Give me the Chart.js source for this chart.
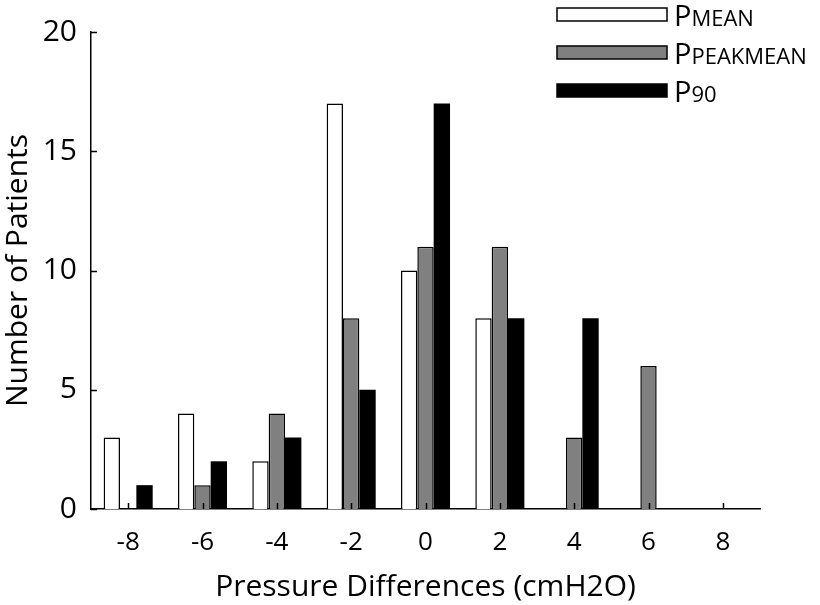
<!DOCTYPE html>
<html>
<head>
<meta charset="utf-8">
<script src="https://cdn.jsdelivr.net/npm/chart.js@4"></script>
<style>
  html, body { margin: 0; padding: 0; background: #fff; }
  #wrap { width: 820px; height: 605px; }
</style>
</head>
<body>
<div id="wrap"><canvas id="myChart" width="820" height="605"></canvas></div>
<script>
var categories = ['-8', '-6', '-4', '-2', '0', '2', '4', '6', '8']
var pMean = [3, 4, 2, 17, 10, 8, 0, 0, 0]
var pPeakMean = [0, 1, 4, 8, 11, 11, 3, 6, 0]
var p90 = [1, 2, 3, 5, 17, 8, 8, 0, 0]
var yTicks = [0, 5, 10, 15, 20]
var seriesNames = ['Pmean', 'Ppeakmean', 'P90']

var FONT = "'Open Sans', sans-serif"

// inward tick marks, drawn from the scales
var tickMarks = {
  id: 'tickMarks',
  afterDraw(chart) {
    var ctx = chart.ctx
    var x = chart.scales.x, y = chart.scales.y
    ctx.save()
    ctx.strokeStyle = '#000'
    ctx.lineWidth = 1.5
    ctx.beginPath()
    y.ticks.forEach((t, i) => {
      var py = Math.round(y.getPixelForTick(i)) + 0.5
      ctx.moveTo(y.right, py)
      ctx.lineTo(y.right + 6, py)
    })
    x.ticks.forEach((t, i) => {
      var px = Math.round(x.getPixelForTick(i)) + 0.5
      ctx.moveTo(px, x.top)
      ctx.lineTo(px, x.top - 6)
    })
    ctx.stroke()
    ctx.restore()
  }
}

// legend drawn in the top right corner with small caps text
var smallCapsLegend = {
  id: 'smallCapsLegend',
  afterDraw(chart) {
    var ctx = chart.ctx
    ctx.save()
    chart.data.datasets.forEach((ds, i) => {
      var top = 8 + i * 38
      ctx.fillStyle = ds.backgroundColor
      ctx.fillRect(557, top, 110, 13)
      ctx.strokeStyle = '#000'
      ctx.lineWidth = 1.5
      ctx.strokeRect(557, top, 110, 13)
      var name = seriesNames[i]
      var base = top + 18
      ctx.fillStyle = '#000'
      ctx.textBaseline = 'alphabetic'
      ctx.textAlign = 'left'
      ctx.font = '29px ' + FONT
      ctx.fillText(name[0], 674, base)
      var w = ctx.measureText(name[0]).width
      ctx.font = '22px ' + FONT
      ctx.fillText(name.slice(1).toUpperCase(), 674 + w, base)
    })
    ctx.restore()
  }
}

var ctx = document.getElementById('myChart')
var chart = new Chart(ctx, {
  type: 'bar',
  data: {
    labels: categories,
    datasets: [
      { label: seriesNames[0], data: pMean, backgroundColor: '#ffffff', borderWidth: 1.5 },
      { label: seriesNames[1], data: pPeakMean, backgroundColor: '#808080', borderWidth: 1.5 },
      // solid black, a border would only leave a seam
      { label: seriesNames[2], data: p90, backgroundColor: '#000000', borderWidth: 0 }
    ].map(d => Object.assign(d, {
      borderColor: '#000',
      borderSkipped: 'start',
      categoryPercentage: 0.66,
      barPercentage: 1
    }))
  },
  options: {
    responsive: false,
    animation: false,
    layout: { padding: { left: 0, right: 60, top: 30, bottom: 0 } },
    scales: {
      x: {
        grid: { display: false, drawTicks: false },
        border: { display: true, color: '#000', width: 1.5 },
        ticks: { color: '#000', font: { family: FONT, size: 26 }, padding: 18 },
        title: { display: true, text: 'Pressure Differences (cmH2O)', color: '#000',
                 font: { family: FONT, size: 30 }, padding: { top: 0, bottom: 0 } },
        afterFit(s) { s.height = 96 }
      },
      y: {
        min: 0, max: 20,
        afterBuildTicks(s) { s.ticks = yTicks.map(v => ({ value: v })) },
        grid: { display: false, drawTicks: false },
        border: { display: true, color: '#000', width: 1.5 },
        ticks: { color: '#000', font: { family: FONT, size: 30 }, padding: 14 },
        title: { display: true, text: 'Number of Patients', color: '#000',
                 font: { family: FONT, size: 30 }, padding: { top: 0, bottom: 0 } },
        afterFit(s) { s.width = 91 }
      }
    },
    plugins: {
      legend: { display: false },
      tooltip: { enabled: false }
    }
  },
  plugins: [tickMarks, smallCapsLegend]
})
</script>
</body>
</html>
